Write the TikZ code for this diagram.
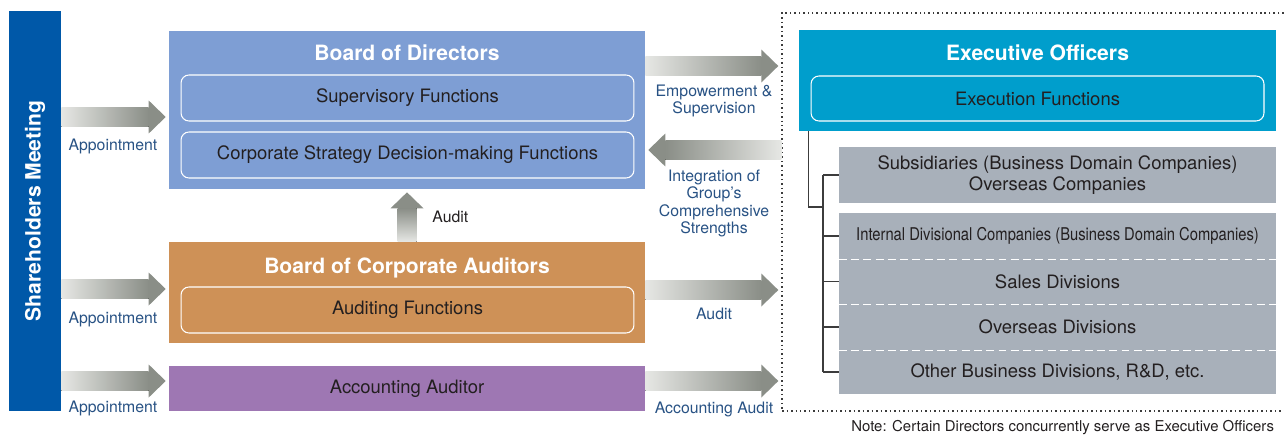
\documentclass[tikz,border=0pt]{standalone}
\usepackage{fontspec}
\setmainfont{TeX Gyre Heros}
\usepackage{graphicx}
\usetikzlibrary{calc}

\definecolor{shblue}{RGB}{0,88,168}
\definecolor{bodblue}{RGB}{126,158,212}
\definecolor{audorange}{RGB}{206,145,87}
\definecolor{accpurple}{RGB}{158,119,179}
\definecolor{exocyan}{RGB}{0,158,204}
\definecolor{unitgray}{RGB}{168,176,186}
\definecolor{txt}{RGB}{35,31,32}
\definecolor{labblue}{RGB}{40,82,132}
\definecolor{arrlight}{RGB}{230,231,228}
\definecolor{arrdark}{RGB}{138,142,135}
\definecolor{linegray}{RGB}{60,60,60}

% broad arrow: tail, target, row (px), shaft shading
\newcommand{\fatarrow}[4]{%
  \fill[#4] let \p1=(#1), \p2=(#2), \p3=(0,#3), \n1={sign(\x2-\x1)} in
    (\x1,{\y3+0.19cm}) -- ({\x2-\n1*0.4cm},{\y3+0.19cm})
    -- ({\x2-\n1*0.4cm},{\y3-0.19cm}) -- (\x1,{\y3-0.19cm}) -- cycle;
  \fill[arrdark] let \p1=(#1), \p2=(#2), \p3=(0,#3), \n1={sign(\x2-\x1)} in
    ({\x2-\n1*0.4cm},{\y3+0.33cm}) -- ({\x2-\n1*0.06cm},\y3)
    -- ({\x2-\n1*0.4cm},{\y3-0.33cm}) -- cycle;}

\begin{document}
\begin{tikzpicture}
[x=0.02cm,y=-0.02cm,
 box/.style={inner sep=0pt,text=txt,font=\fontsize{10.5}{12}\selectfont},
 func/.style={box,draw=white,line width=0.6pt,rounded corners=4.5pt,minimum width=9.06cm,minimum height=0.92cm},
 title/.style={text=white,inner sep=0pt,font=\bfseries\fontsize{12}{14}\selectfont},
 unit/.style={box,fill=unitgray,minimum width=8.74cm},
 lab/.style={text=labblue,inner sep=0pt,align=center,font=\fontsize{9}{9.2}\selectfont},
 branch/.style={draw=linegray,line width=0.7pt},
 dashsep/.style={draw=white,line width=0.6pt,dash pattern=on 4.5pt off 2.5pt},
 rshaft/.style={left color=arrlight,right color=arrdark},
 lshaft/.style={left color=arrdark,right color=arrlight},
 ushaft/.style={bottom color=arrlight,top color=arrdark}]

\useasboundingbox (0,0) rectangle (1284,436);

\node (shm) at (35,211) [fill=shblue,minimum width=8cm,minimum height=1.04cm,rotate=90,title] {Shareholders Meeting};

\node (bod) at (407,110) [fill=bodblue,minimum width=9.52cm,minimum height=3.16cm] {};
\node (bodt) at (407,53) [title] {Board of Directors};
\node (sup) at (407.5,98) [func] {Supervisory Functions};
\node (csd) at (407.5,155) [func] {Corporate Strategy Decision-making Functions};

\node (bca) at (407,292.5) [fill=audorange,minimum width=9.52cm,minimum height=2.02cm] {};
\node (bcat) at (407,268) [title] {Board of Corporate Auditors};
\node (auf) at (407.5,310) [func] {Auditing Functions};

\node (acc) at (407,388.5) [box,fill=accpurple,minimum width=9.52cm,minimum height=0.9cm] {Accounting Auditor};

\node (grp) at (1041,212) [draw=linegray,line width=0.85pt,dash pattern=on 0.85pt off 1.7pt,minimum width=10.36cm,minimum height=7.96cm] {};

\node (exo) at (1037.5,80.5) [fill=exocyan,minimum width=9.54cm,minimum height=2.02cm] {};
\node (exot) at (1037.5,53) [title] {Executive Officers};
\node (exf) at (1037.5,98.5) [func,minimum height=0.9cm] {Execution Functions};

\node (sub) at (1057.5,175) [unit,minimum height=1.12cm,align=center] {Subsidiaries (Business Domain Companies)\\Overseas Companies};
\node (idc) at (1057.5,236) [unit,minimum height=0.92cm] {\fontsize{10}{12}\selectfont\scalebox{0.84}[1]{Internal Divisional Companies (Business Domain Companies)}};
\node (sal) at (1057.5,281.5) [unit,minimum height=0.9cm] {Sales Divisions};
\node (ovs) at (1057.5,327) [unit,minimum height=0.92cm] {Overseas Divisions};
\node (oth) at (1057.5,372) [unit,minimum height=0.88cm] {Other Business Divisions, R\&D, etc.};

\foreach \r in {idc,sal,ovs}
  \draw[dashsep] (\r.south west) -- (\r.south east);

% reporting lines
\coordinate (knee) at (823,207);
\draw[branch] ([xshift=0.2cm]exo.south west) |- (knee);
\draw[branch] (knee |- sub) -- (knee |- oth);
\foreach \r in {sub,idc,sal,ovs,oth}
  \draw[branch] (knee |- \r) -- (\r.west);

% arrows
\fatarrow{shm.south}{bod.west}{117}{rshaft}
\fatarrow{shm.south}{bca.west}{289}{rshaft}
\fatarrow{shm.south}{acc.west}{381}{rshaft}
\fatarrow{bod.east}{grp.west}{66}{rshaft}
\fatarrow{grp.west}{bod.east}{150}{lshaft}
\fatarrow{bca.east}{grp.west}{290}{rshaft}
\fatarrow{acc.east}{grp.west}{381}{rshaft}

\fill[ushaft] let \p1=(bca.north), \p2=(bod.south) in
  ({\x1-0.19cm},\y1) rectangle ({\x1+0.19cm},{\y2-0.38cm});
\fill[arrdark] let \p1=(bca.north), \p2=(bod.south) in
  ({\x1-0.33cm},{\y2-0.38cm}) -- (\x1,{\y2-0.06cm}) -- ({\x1+0.33cm},{\y2-0.38cm}) -- cycle;

\node (ap1) at (113,146) [lab] {Appointment};
\node (ap2) at (113,319) [lab] {Appointment};
\node (ap3) at (113,408) [lab] {Appointment};
\node (aud) at (432,217) [lab,anchor=west,text=txt] {Audit};
\node (emp) at (714,101) [lab] {Empowerment \&\\Supervision};
\node (int) at (714,203.5) [lab,font=\fontsize{9}{10}\selectfont] {Integration of\\Group's\\Comprehensive\\Strengths};
\node (aud2) at (714,314) [lab] {Audit};
\node (aca) at (714,409) [lab] {Accounting Audit};
\node (note) at (851,428) [anchor=west,inner sep=0pt,text=txt,font=\fontsize{8.5}{10}\selectfont] {Note: Certain Directors concurrently serve as Executive Officers};
\end{tikzpicture}
\end{document}
